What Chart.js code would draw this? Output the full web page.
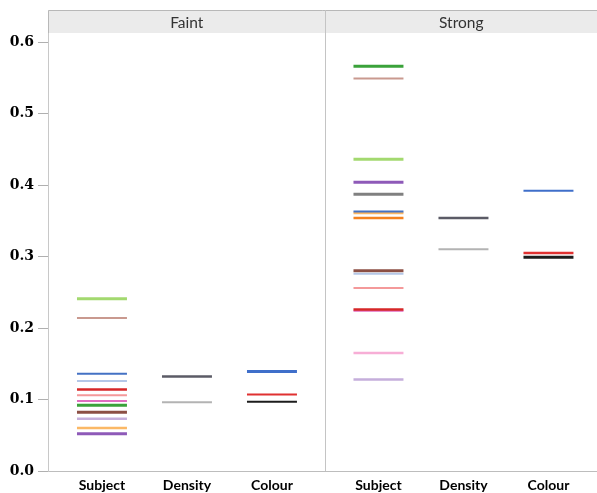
<!DOCTYPE html>
<html>
<head>
<meta charset="utf-8">
<title>Faint vs Strong</title>
<script src="https://cdn.jsdelivr.net/npm/chart.js@4"></script>
<style>
  html, body { margin: 0; padding: 0; background: #ffffff; }
  canvas { display: block; }
</style>
</head>
<body>
<canvas id="chart" width="597" height="493"></canvas>
<script>
// Panel titles and category names
const panels = ['Faint', 'Strong'];
const categories = ['Subject', 'Density', 'Colour'];
const yTicks = [0.0, 0.1, 0.2, 0.3, 0.4, 0.5, 0.6];

// One value per subject (null = no visible mark)
const faintSubject  = [0.136, 0.126, null, 0.060, 0.092, 0.241, 0.114, 0.106, 0.052, 0.073, 0.082, 0.214, 0.098, null, null];
const strongSubject = [0.363, 0.276, 0.354, 0.361, 0.566, 0.436, 0.226, 0.256, 0.404, 0.128, 0.280, 0.549, 0.224, 0.165, 0.387];

const faintDensity  = [0.132, 0.096];
const strongDensity = [0.354, 0.310];

const faintColour  = [0.139, 0.107, 0.097];
const strongColour = [0.392, 0.305, 0.299];

// Colours for each series
const subjectColors = ['#4472c4', '#b4c7e7', '#f5821f', '#fbb866', '#3aa23a', '#a3d96f', '#d62728', '#f4999a',
                       '#8e5ab8', '#c5aedb', '#8c4f44', '#c9998f', '#e06dc0', '#f7aed6', '#808080'];
const subjectWidths = [2, 2, 2.5, 2.5, 3, 3, 2.5, 2, 3, 2.5, 3, 2, 2, 2.5, 3];
const densityColors = ['#5b5b66', '#b3b3b3'];
const colourColors  = ['#3f6fca', '#e03131', '#1c1c1c'];

// Horizontal layout in x units: category centres within each panel
const panelOffset = [0, 3.253];
const halfWidth = 0.294;
const xMin = -0.635, xMax = 5.824, divider = 2.624;

const datasets = [];
function addGroup(values, colors, widths, panel, cat) {
  const cx = panelOffset[panel] + cat;
  values.forEach((v, i) => {
    if (v === null) return;
    datasets.push({
      type: 'line',
      data: [{ x: cx - halfWidth, y: v }, { x: cx + halfWidth, y: v }],
      borderColor: colors[i],
      borderWidth: widths ? widths[i] : 2.5,
      pointRadius: 0,
      fill: false,
      tension: 0
    });
  });
}
addGroup(faintSubject, subjectColors, subjectWidths, 0, 0);
addGroup(faintDensity, densityColors, [2.5, 2], 0, 1);
addGroup(faintColour, colourColors, [3, 2, 2], 0, 2);
addGroup(strongSubject, subjectColors, subjectWidths, 1, 0);
addGroup(strongDensity, densityColors, [2.5, 2], 1, 1);
addGroup(strongColour, colourColors, [2, 2.5, 3], 1, 2);

const xTickValues = [];
panelOffset.forEach(o => categories.forEach((c, i) => xTickValues.push(o + i)));

// Panel header strip and divider
const panelFrame = {
  id: 'panelFrame',
  afterDraw(chart) {
    const ctx = chart.ctx;
    const area = chart.chartArea;
    const xs = chart.scales.x;
    const top = 10;
    const xDiv = Math.round(xs.getPixelForValue(divider)) + 0.5;
    ctx.save();
    ctx.fillStyle = '#ebebeb';
    ctx.fillRect(area.left, top, area.right - area.left, area.top - top);
    ctx.strokeStyle = '#b8b8b8';
    ctx.lineWidth = 1;
    ctx.beginPath();
    ctx.moveTo(area.left + 0.5, area.top);
    ctx.lineTo(area.left + 0.5, top + 0.5);
    ctx.lineTo(area.right, top + 0.5);
    ctx.stroke();
    ctx.strokeStyle = '#c4c4c4';
    ctx.beginPath();
    ctx.moveTo(xDiv, top);
    ctx.lineTo(xDiv, area.bottom);
    ctx.stroke();
    ctx.fillStyle = '#333333';
    ctx.font = '15.5px Lato, "Open Sans", sans-serif';
    ctx.textAlign = 'center';
    ctx.textBaseline = 'middle';
    const centers = [(area.left + xDiv) / 2, (xDiv + area.right) / 2];
    panels.forEach((p, i) => ctx.fillText(p, centers[i], (top + area.top) / 2 + 1));
    ctx.restore();
  }
};

new Chart(document.getElementById('chart'), {
  type: 'line',
  data: { datasets },
  options: {
    responsive: false,
    devicePixelRatio: 1,
    animation: false,
    layout: { padding: { top: 33, right: 0, left: 0, bottom: 0 } },
    plugins: { legend: { display: false }, tooltip: { enabled: false } },
    scales: {
      x: {
        type: 'linear',
        min: xMin,
        max: xMax,
        afterBuildTicks(scale) { scale.ticks = xTickValues.map(v => ({ value: v })); },
        afterFit(scale) { scale.height = 22; },
        grid: { display: false, drawTicks: false },
        border: { display: true, color: '#bdbdbd', width: 1 },
        ticks: {
          autoSkip: false,
          maxRotation: 0,
          padding: 6,
          color: '#000000',
          font: { family: 'Lato, "Open Sans", sans-serif', size: 14, weight: 'bold' },
          callback: (v, i) => categories[i % categories.length]
        }
      },
      y: {
        type: 'linear',
        min: 0,
        max: 0.6126,
        afterBuildTicks(scale) { scale.ticks = yTicks.map(v => ({ value: v })); },
        afterFit(scale) { scale.width = 48; },
        grid: { drawOnChartArea: false, drawTicks: true, tickLength: 10, color: '#b0b0b0' },
        border: { display: true, color: '#c8c8c8', width: 1 },
        ticks: {
          padding: 4,
          color: '#000000',
          font: { family: '"DejaVu Serif", serif', size: 14, weight: 'bold' },
          callback: v => v.toFixed(1)
        }
      }
    }
  },
  plugins: [panelFrame]
});
</script>
</body>
</html>
